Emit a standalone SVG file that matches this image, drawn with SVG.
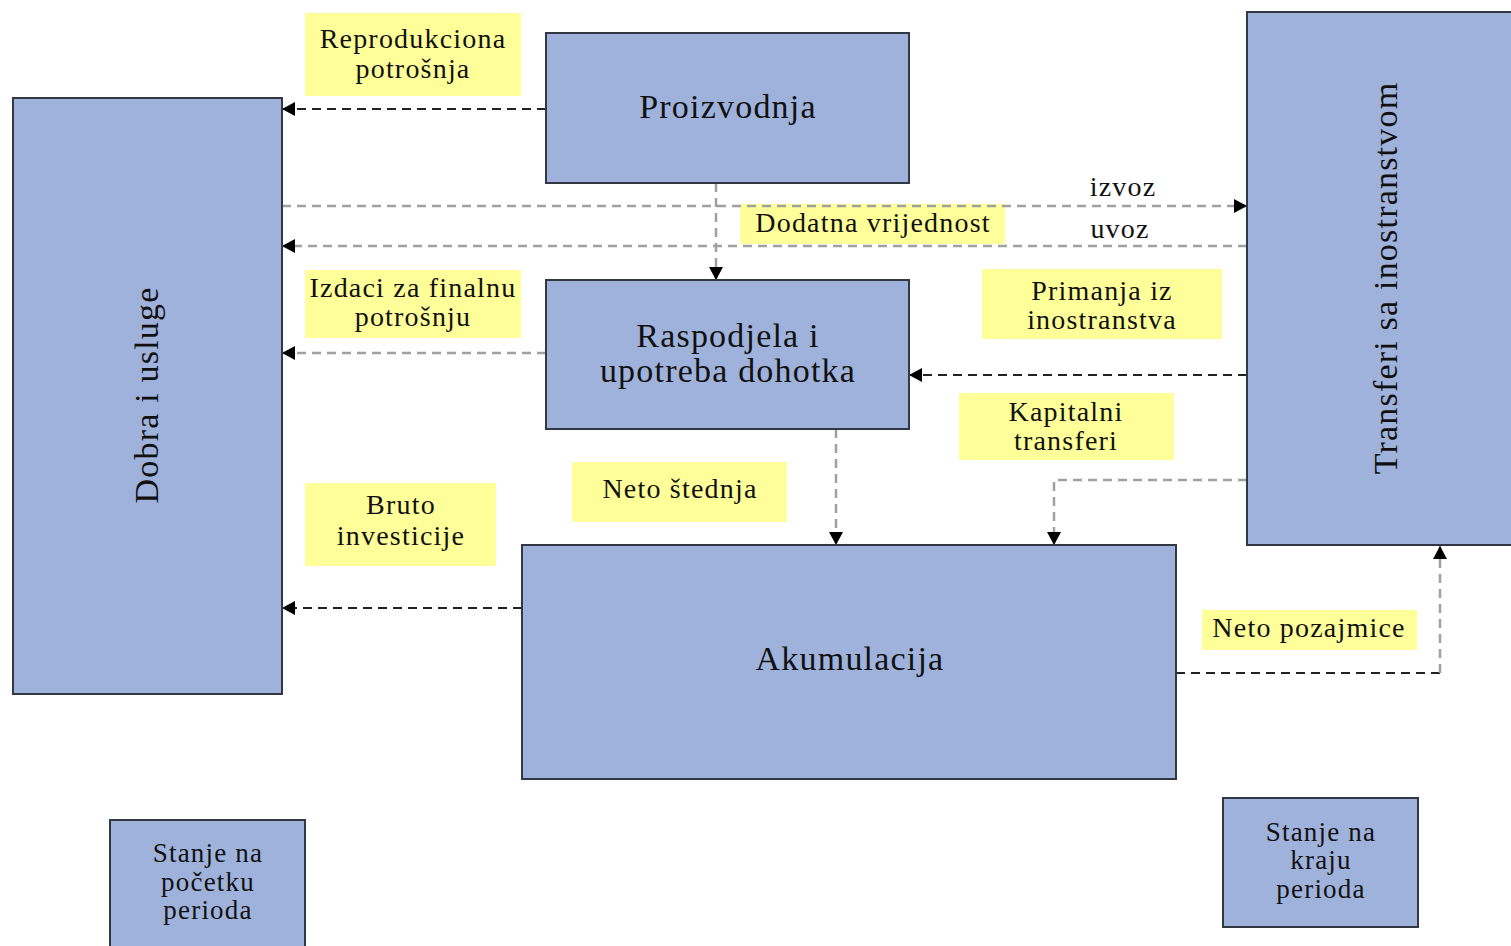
<svg xmlns="http://www.w3.org/2000/svg" width="1511" height="946" viewBox="0 0 1511 946">
<style>
.box{fill:#9fb2db;stroke:#333845;stroke-width:2}
.lab{fill:#ffff99}
.t{font-family:"Liberation Serif",serif;fill:#111;text-anchor:middle}
.big{font-size:34px;letter-spacing:1.2px}
.sm{font-size:28px;letter-spacing:1.2px}
.st{font-size:27px;letter-spacing:1.2px}
.dk{fill:none;stroke:#222;stroke-width:2;stroke-dasharray:9,6}
.gr{fill:none;stroke:#a0a0a0;stroke-width:2.5;stroke-dasharray:9,6}
</style>
<defs>
<marker id="ah" markerUnits="userSpaceOnUse" markerWidth="14" markerHeight="14" refX="13" refY="7" orient="auto"><path d="M0,0 L13,7 L0,14 z" fill="#000"/></marker>
</defs>
<rect width="1511" height="946" fill="#fff"/>
<g id="lab-reprod"><rect class="lab" x="305" y="13" width="216" height="83"/><text class="t sm" x="413" y="48">Reprodukciona</text><text class="t sm" x="413" y="78">potrošnja</text></g>
<g id="lab-dodatna"><rect class="lab" x="740" y="204" width="265" height="40"/><text class="t sm" x="873" y="232">Dodatna vrijednost</text></g>
<g id="lab-izdaci"><rect class="lab" x="305" y="270" width="216" height="68"/><text class="t sm" x="413" y="297">Izdaci za finalnu</text><text class="t sm" x="413" y="326">potrošnju</text></g>
<g id="lab-primanja"><rect class="lab" x="982" y="269" width="240" height="70"/><text class="t sm" x="1102" y="300">Primanja iz</text><text class="t sm" x="1102" y="329">inostranstva</text></g>
<g id="lab-kapitalni"><rect class="lab" x="959" y="393" width="215" height="67"/><text class="t sm" x="1066" y="421">Kapitalni</text><text class="t sm" x="1066" y="450">transferi</text></g>
<g id="lab-neto-stednja"><rect class="lab" x="572" y="462" width="215" height="60"/><text class="t sm" x="680" y="498">Neto štednja</text></g>
<g id="lab-bruto"><rect class="lab" x="305" y="483" width="191" height="83"/><text class="t sm" x="401" y="514">Bruto</text><text class="t sm" x="401" y="545">investicije</text></g>
<g id="lab-neto-pozajmice"><rect class="lab" x="1202" y="610" width="215" height="40"/><text class="t sm" x="1309" y="637">Neto pozajmice</text></g>
<g id="lab-izvoz"><text class="t sm" x="1123" y="196">izvoz</text></g>
<g id="lab-uvoz"><text class="t sm" x="1120" y="238">uvoz</text></g>
<g id="connectors">
<path class="dk" d="M546,109 H282" marker-end="url(#ah)"/>
<path class="gr" d="M282,206 H1247" marker-end="url(#ah)"/>
<path class="gr" d="M1247,246 H282" marker-end="url(#ah)"/>
<path class="gr" d="M716,183 V280" marker-end="url(#ah)"/>
<path class="gr" d="M546,353 H282" marker-end="url(#ah)"/>
<path class="dk" d="M1247,375 H909" marker-end="url(#ah)"/>
<path class="gr" d="M836,429 V545" marker-end="url(#ah)"/>
<path class="gr" d="M1247,480 H1054 V545" marker-end="url(#ah)"/>
<path class="dk" d="M522,608 H282" marker-end="url(#ah)"/>
<path class="dk" d="M1176,673 H1440"/>
<path class="gr" d="M1440,673 V546" marker-end="url(#ah)"/>
</g>
<g id="dobra"><rect class="box" x="13" y="98" width="269" height="596"/><text class="t big" transform="translate(158,395) rotate(-90)">Dobra i usluge</text></g>
<g id="proizvodnja"><rect class="box" x="546" y="33" width="363" height="150"/><text class="t big" x="728" y="118">Proizvodnja</text></g>
<g id="raspodjela"><rect class="box" x="546" y="280" width="363" height="149"/><text class="t big" x="728" y="347">Raspodjela i</text><text class="t big" x="728" y="382">upotreba dohotka</text></g>
<g id="akumulacija"><rect class="box" x="522" y="545" width="654" height="234"/><text class="t big" x="850" y="670">Akumulacija</text></g>
<g id="transferi"><rect class="box" x="1247" y="12" width="280" height="533"/><text class="t big" transform="translate(1397,278) rotate(-90)">Transferi sa inostranstvom</text></g>
<g id="stanje-pocetak"><rect class="box" x="110" y="820" width="195" height="140"/><text class="t st" x="208" y="862">Stanje na</text><text class="t st" x="208" y="891">početku</text><text class="t st" x="208" y="919">perioda</text></g>
<g id="stanje-kraj"><rect class="box" x="1223" y="798" width="195" height="129"/><text class="t st" x="1321" y="841">Stanje na</text><text class="t st" x="1321" y="869">kraju</text><text class="t st" x="1321" y="898">perioda</text></g>
</svg>
